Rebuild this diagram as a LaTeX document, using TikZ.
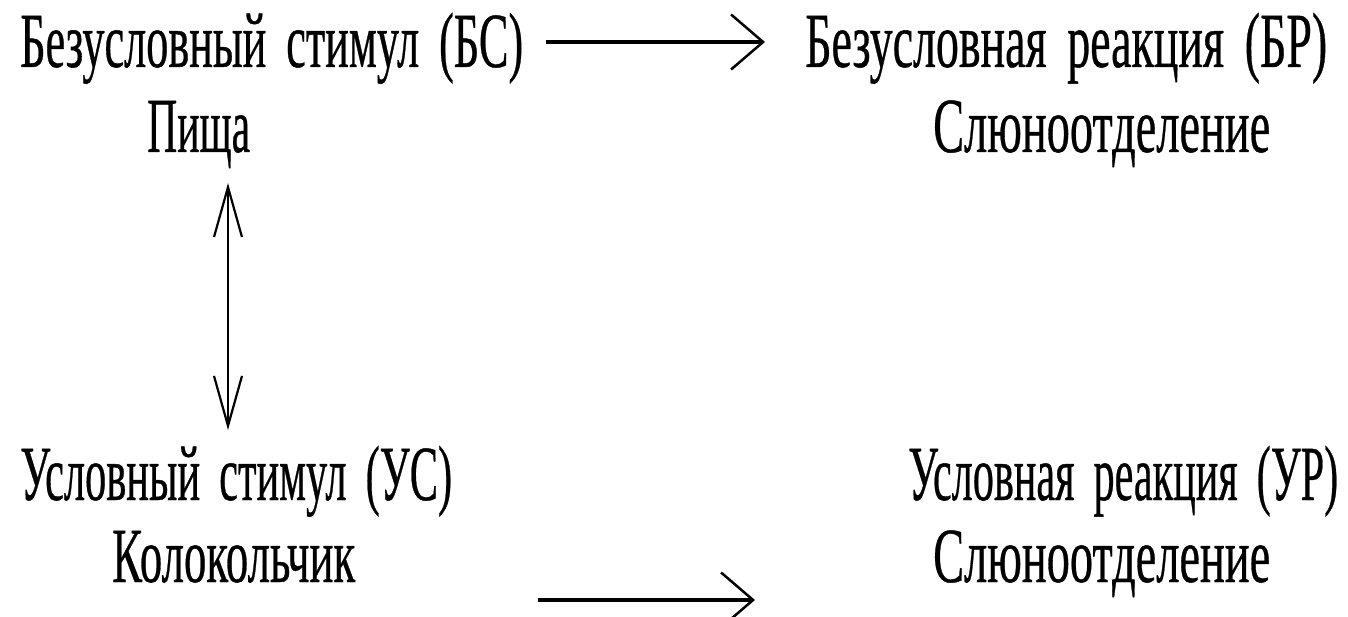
\documentclass[tikz,border=0pt]{standalone}
\usepackage{fontspec}
\usepackage{graphicx}
\newfontfamily\pix[FakeBold=0.6,WordSpace=1.8]{Liberation Serif}
\newcommand\fitw[2]{\resizebox{#1}{\height}{#2}}
\usetikzlibrary{arrows.meta}
\begin{document}
\begin{tikzpicture}[x=1pt,y=-1pt,
  lbl/.style={font=\pix\fontsize{78}{78}\selectfont, inner sep=0pt, text=black},
  harr/.style={line width=4pt, -{Straight Barb[length=32pt,width=55pt,line width=2.5pt]}},
  varr/.style={line width=2.2pt, {Straight Barb[length=50pt,width=28pt,line width=2.2pt]}-{Straight Barb[length=50pt,width=28pt,line width=2.2pt]}}]
\useasboundingbox (0,0) rectangle (1348,617);
\node[lbl, anchor=base west] (bs) at (20,67) {\fitw{503pt}{Безусловный стимул (БС)}};
\node[lbl, anchor=base west] (food) at (147,152) {\fitw{103pt}{Пища}};
\node[lbl, anchor=base west] (br) at (805,67) {\fitw{522pt}{Безусловная реакция (БР)}};
\node[lbl, anchor=base west] (sal1) at (933,152) {\fitw{337pt}{Слюноотделение}};
\node[lbl, anchor=base west] (us) at (20,500) {\fitw{432pt}{Условный стимул (УС)}};
\node[lbl, anchor=base west] (bell) at (112,582) {\fitw{243pt}{Колокольчик}};
\node[lbl, anchor=base west] (ur) at (908,500) {\fitw{430pt}{Условная реакция (УР)}};
\node[lbl, anchor=base west] (sal2) at (933,582) {\fitw{337pt}{Слюноотделение}};
\coordinate (a1s) at (546,42);
\coordinate (a1e) at (765,42);
\coordinate (a2s) at (538,600);
\coordinate (a2e) at (755,600);
\coordinate (vt) at (228,183);
\coordinate (vb) at (228,430);
\draw[harr] (a1s) -- (a1e);
\draw[harr] (a2s) -- (a2e);
\draw[varr] (vt) -- (vb);
\end{tikzpicture}
\end{document}
